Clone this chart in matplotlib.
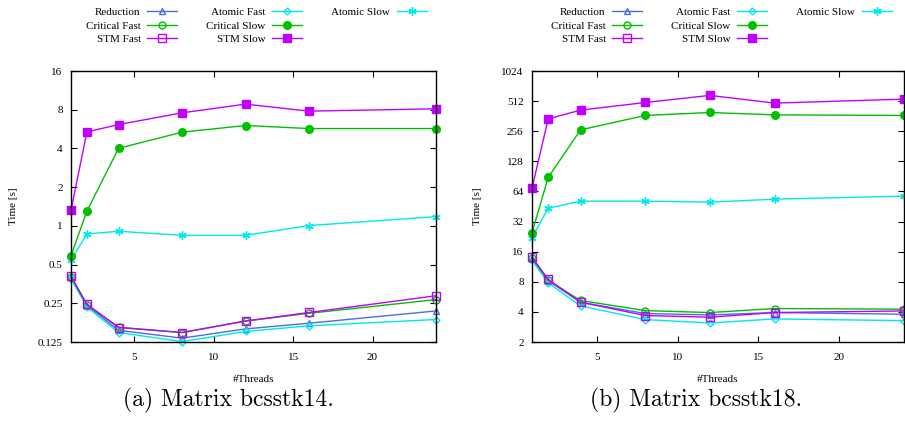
import numpy as np
import matplotlib.pyplot as plt
from matplotlib.lines import Line2D
from matplotlib.ticker import FixedLocator, FixedFormatter, NullLocator

threads = [1, 2, 4, 8, 12, 16, 24]

# bcsstk14 timings [s]
a_reduction = [0.40, 0.240, 0.154, 0.134, 0.158, 0.175, 0.218]
a_atomic_fast = [0.388, 0.234, 0.148, 0.126, 0.151, 0.167, 0.187]
a_atomic_slow = [0.542, 0.865, 0.908, 0.844, 0.844, 1.005, 1.18]
a_critical_fast = [0.40, 0.242, 0.163, 0.148, 0.182, 0.209, 0.267]
a_critical_slow = [0.586, 1.30, 4.01, 5.35, 6.03, 5.71, 5.71]
a_stm_fast = [0.407, 0.246, 0.162, 0.148, 0.182, 0.212, 0.286]
a_stm_slow = [1.32, 5.38, 6.13, 7.57, 8.84, 7.80, 8.13]

# bcsstk18 timings [s]
b_reduction = [13.6, 8.2, 5.0, 3.85, 3.73, 3.94, 3.79]
b_atomic_fast = [13.1, 7.82, 4.59, 3.35, 3.10, 3.40, 3.27]
b_atomic_slow = [22.1, 43.5, 51.2, 51.2, 50.0, 53.6, 57.4]
b_critical_fast = [13.8, 8.3, 5.2, 4.12, 3.94, 4.32, 4.26]
b_critical_slow = [24.6, 88.4, 264, 368, 394, 373, 368]
b_stm_fast = [14.1, 8.44, 5.0, 3.68, 3.54, 3.94, 4.09]
b_stm_slow = [68.6, 340, 416, 496, 584, 489, 536]

a_yticks = [0.125, 0.25, 0.5, 1, 2, 4, 8, 16]
a_ylabels = ['0.125', '0.25', '0.5', '1', '2', '4', '8', '16']
b_yticks = [2, 4, 8, 16, 32, 64, 128, 256, 512, 1024]
b_ylabels = [str(v) for v in b_yticks]
xticks = [5, 10, 15, 20]

captions = ['(a) Matrix bcsstk14.', '(b) Matrix bcsstk18.']

BLUE = '#4a6ee0'
GREEN = '#00c000'
VIOLET = '#c000ff'
CYAN = '#00e8e8'
ASTER = (6, 2, 0)

styles = {
    'Reduction': dict(color=BLUE, marker='^', mfc='none', ms=5),
    'Atomic Fast': dict(color=CYAN, marker='D', mfc='none', ms=3.5),
    'Atomic Slow': dict(color=CYAN, marker=ASTER, ms=6),
    'Critical Fast': dict(color=GREEN, marker='o', mfc='none', ms=5),
    'Critical Slow': dict(color=GREEN, marker='o', ms=5.5),
    'STM Fast': dict(color=VIOLET, marker='s', mfc='none', ms=5.5),
    'STM Slow': dict(color=VIOLET, marker='s', ms=6),
}

plt.rcParams['font.family'] = ['Liberation Serif', 'DejaVu Serif']
plt.rcParams['font.size'] = 8

fig = plt.figure(figsize=(9.05, 4.26), dpi=100)
W, H = 905, 426
boxes = [(71, 436), (532, 904)]
top, bottom = 71, 342
caption_x = [228, 696]
legend_right = [431, 896]

datasets = [
    {'Reduction': a_reduction, 'Atomic Fast': a_atomic_fast, 'Atomic Slow': a_atomic_slow,
     'Critical Fast': a_critical_fast, 'Critical Slow': a_critical_slow,
     'STM Fast': a_stm_fast, 'STM Slow': a_stm_slow},
    {'Reduction': b_reduction, 'Atomic Fast': b_atomic_fast, 'Atomic Slow': b_atomic_slow,
     'Critical Fast': b_critical_fast, 'Critical Slow': b_critical_slow,
     'STM Fast': b_stm_fast, 'STM Slow': b_stm_slow},
]
yt = [(a_yticks, a_ylabels), (b_yticks, b_ylabels)]

legend_order = ['Reduction', 'Critical Fast', 'STM Fast',
                'Atomic Fast', 'Critical Slow', 'STM Slow', 'Atomic Slow', None]

for i, (x0, x1) in enumerate(boxes):
    ax = fig.add_axes([x0 / W, 1 - bottom / H, (x1 - x0) / W, (bottom - top) / H])
    data = datasets[i]
    handles = {}
    for name in ['Reduction', 'Atomic Fast', 'Atomic Slow', 'Critical Fast',
                 'Critical Slow', 'STM Fast', 'STM Slow']:
        h, = ax.plot(threads, data[name], lw=1, mew=1, label=name, clip_on=False,
                     **styles[name])
        handles[name] = h
    ax.set_yscale('log', base=2)
    ticks, labels = yt[i]
    ax.set_ylim(ticks[0], ticks[-1])
    ax.yaxis.set_major_locator(FixedLocator(ticks))
    ax.yaxis.set_major_formatter(FixedFormatter(labels))
    ax.yaxis.set_minor_locator(NullLocator())
    ax.set_xlim(1, 24)
    ax.set_xticks(xticks)
    ax.tick_params(direction='in', top=True, right=True, length=4, width=0.8,
                   labelsize=8)
    ax.tick_params(axis='y', pad=6)
    ax.tick_params(axis='x', pad=8)
    for s in ax.spines.values():
        s.set_linewidth(1)
    ax.set_ylabel('Time [s]', fontsize=8, labelpad=14)
    ax.set_xlabel('#Threads', fontsize=8, labelpad=9)

    blank = Line2D([], [], color='none')
    hs = [handles[n] if n else blank for n in legend_order]
    ls = [n if n else '' for n in legend_order]
    ax.legend(hs, ls, ncol=3, markerfirst=False, frameon=False,
              loc='upper right',
              bbox_to_anchor=((legend_right[i] - x0) / (x1 - x0), 1 + 68 / (bottom - top)),
              fontsize=8, handlelength=2.7, columnspacing=2.6,
              labelspacing=0.33, handletextpad=0.6, borderaxespad=0)

    fig.text(caption_x[i] / W, 1 - 400 / H, captions[i],
             ha='center', va='center', fontsize=17, family='cmr10')

fig.savefig('out.png', dpi=100)
